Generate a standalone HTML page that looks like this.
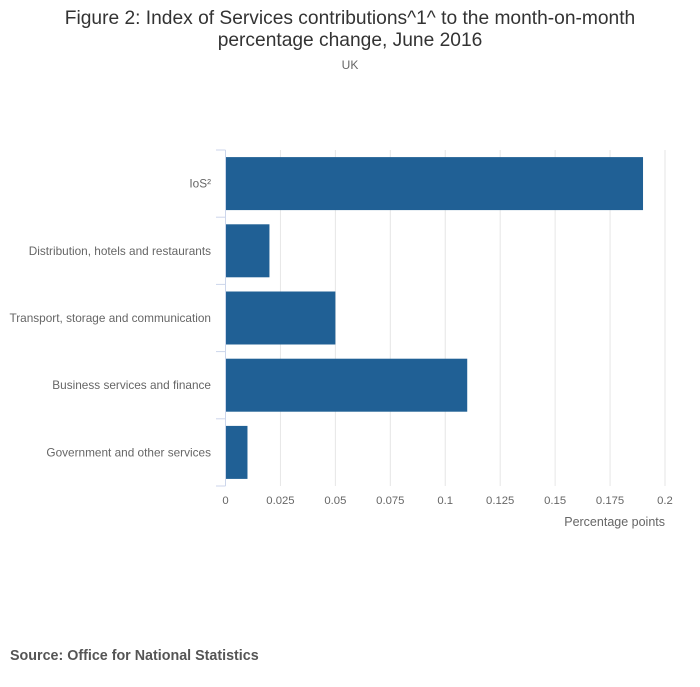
<!DOCTYPE html>
<html><head><meta charset="utf-8"><style>
body{margin:0;background:#fff;width:700px;height:682px;overflow:hidden;font-family:"Liberation Sans",sans-serif}
</style></head><body>
<svg id="chart" width="700" height="682" xmlns="http://www.w3.org/2000/svg" font-family="Liberation Sans, sans-serif">
<text x="350" y="24" text-anchor="middle" font-size="19.2" fill="#333">Figure 2: Index of Services contributions^1^ to the month-on-month</text>
<text x="350" y="46" text-anchor="middle" font-size="19.2" fill="#333">percentage change, June 2016</text>
<text x="350" y="69" text-anchor="middle" font-size="12" fill="#666">UK</text>
<g id="grid"></g><g id="bars"></g><g id="axes"></g>
<text x="665" y="526" text-anchor="end" font-size="12.5" fill="#666">Percentage points</text>
<text x="10" y="660" font-size="14.3" font-weight="bold" fill="#555">Source: Office for National Statistics</text>
</svg>
<script>
const categories=["IoS²","Distribution, hotels and restaurants","Transport, storage and communication","Business services and finance","Government and other services"];
const values=[0.19,0.02,0.05,0.11,0.01];
const ticks=[0,0.025,0.05,0.075,0.1,0.125,0.15,0.175,0.2];
const tickLabels=["0","0.025","0.05","0.075","0.1","0.125","0.15","0.175","0.2"];
const NS="http://www.w3.org/2000/svg";
const x0=225.5,x1=665,yTop=150,yBot=486,xMax=0.2;
const xs=v=>x0+(x1-x0)*v/xMax;
const band=(yBot-yTop)/categories.length;
function mk(t,a,p){const e=document.createElementNS(NS,t);for(const k in a)e.setAttribute(k,a[k]);p.appendChild(e);return e;}
const grid=document.getElementById('grid'),bars=document.getElementById('bars'),axes=document.getElementById('axes');
ticks.forEach((t,i)=>{
 if(i>0){const g=mk('line',{x1:xs(t),x2:xs(t),y1:yTop,y2:yBot,stroke:'#e6e6e6','stroke-width':1},grid);
 
 }
 const l=mk('text',{x:xs(t),y:504,'text-anchor':'middle','font-size':11.3,fill:'#666'},axes);l.textContent=tickLabels[i];
 
 
});
const ax=mk('line',{x1:x0,x2:x0,y1:yTop,y2:yBot,stroke:'#ccd6eb','stroke-width':1},axes);


for(let i=0;i<=categories.length;i++){const y=yTop+band*i;
 const tk=mk('line',{x1:216,x2:x0,y1:y,y2:y,stroke:'#ccd6eb','stroke-width':1},axes);
 
 }
categories.forEach((c,i)=>{
 const yc=yTop+band*(i+0.5);
 const r=mk('rect',{x:x0,y:yc-26.5,width:xs(values[i])-x0,height:53,fill:'#206095'},bars);
 
 
 const t=mk('text',{x:211,y:yc+4,'text-anchor':'end','font-size':11.8,fill:'#666'},axes);t.textContent=c;
 
 
});
</script>
</body></html>
